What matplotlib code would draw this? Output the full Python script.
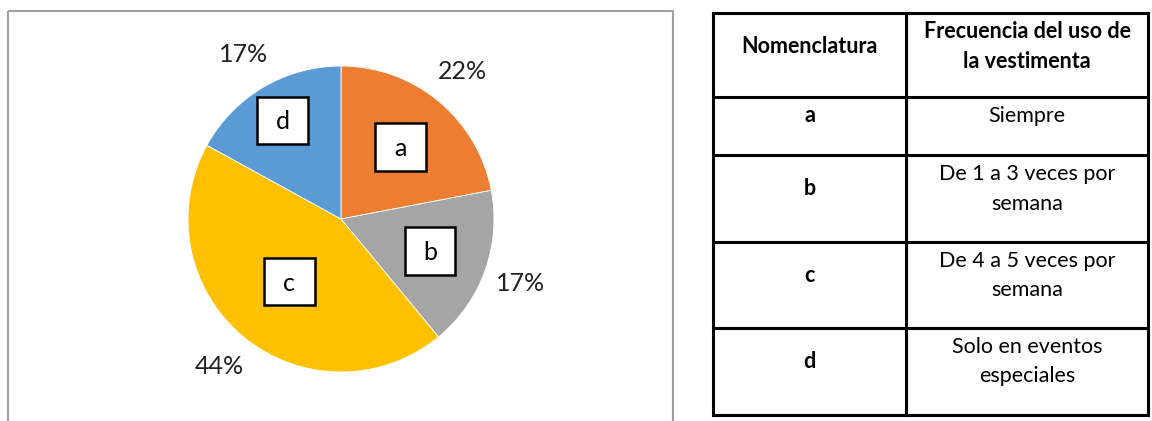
import numpy as np
import matplotlib.pyplot as plt
from matplotlib.patches import Rectangle

plt.rcParams["font.family"] = ["Lato", "DejaVu Sans"]

# data
letters = ["a", "b", "c", "d"]
percent = [22, 17, 44, 17]
colors = ["#ED7D31", "#A5A5A5", "#FFC000", "#5B9BD5"]
box_dist = [0.61, 0.62, 0.53, 0.75]

header = ["Nomenclatura", "Frecuencia del uso de\nla vestimenta"]
descr = ["Siempre", "De 1 a 3 veces por\nsemana", "De 4 a 5 veces por\nsemana",
         "Solo en eventos\nespeciales"]

W, H = 1152, 421
fig = plt.figure(figsize=(W / 100, H / 100), dpi=100)

# background axes in pixel coordinates
bg = fig.add_axes([0, 0, 1, 1])
bg.set_xlim(0, W)
bg.set_ylim(H, 0)
bg.axis("off")

# chart frame (bottom cut off)
bg.add_patch(Rectangle((8, 11), 665, 420, fill=False, edgecolor="#A0A0A0", lw=1.5))

# pie
cx, cy, r = 341, 219, 153
ax = fig.add_axes([(cx - r) / W, (H - cy - r) / H, 2 * r / W, 2 * r / H])
wedges, texts, autotexts = ax.pie(
    percent, colors=colors, startangle=90, counterclock=False,
    autopct="%d%%", pctdistance=1.25, radius=1,
    wedgeprops=dict(edgecolor="white", linewidth=0.6),
    textprops=dict(fontsize=18, color="#222222"),
)
ax.set_xlim(-1, 1)
ax.set_ylim(-1, 1)
ax.set_aspect("equal")

for w, lab, d in zip(wedges, letters, box_dist):
    ang = np.deg2rad((w.theta1 + w.theta2) / 2)
    x, y = d * np.cos(ang), d * np.sin(ang)
    ax.add_patch(Rectangle((x - 0.165, y - 0.155), 0.33, 0.31, facecolor="white",
                           edgecolor="black", lw=1.8, zorder=3, clip_on=False))
    ax.text(x, y - 0.01, lab, ha="center", va="center", fontsize=18, zorder=4)

# table
tx = [713, 906, 1148]
ty = [13, 97, 155, 242, 328, 415]
for x in tx:
    bg.plot([x, x], [ty[0], ty[-1]], color="black", lw=2.2, solid_capstyle="projecting")
for y in ty:
    bg.plot([tx[0], tx[-1]], [y, y], color="black", lw=2.2, solid_capstyle="projecting")

c1 = (tx[0] + tx[1]) / 2
c2 = (tx[1] + tx[2]) / 2
line_h = 29.5
rows_left = header[:1] + letters
rows_right = header[1:] + descr
for i, (lt, rt) in enumerate(zip(rows_left, rows_right)):
    lines = rt.split("\n")
    y0 = ty[i] + 19
    wt = "bold" if i == 0 else "normal"
    for k, s in enumerate(lines):
        bg.text(c2, y0 + k * line_h, s, ha="center", va="center", fontsize=15.5, fontweight=wt)
    mid = y0 + (len(lines) - 1) * line_h / 2
    bg.text(c1, mid, lt, ha="center", va="center", fontsize=15.5, fontweight="bold")

fig.savefig("out.png", dpi=100)
